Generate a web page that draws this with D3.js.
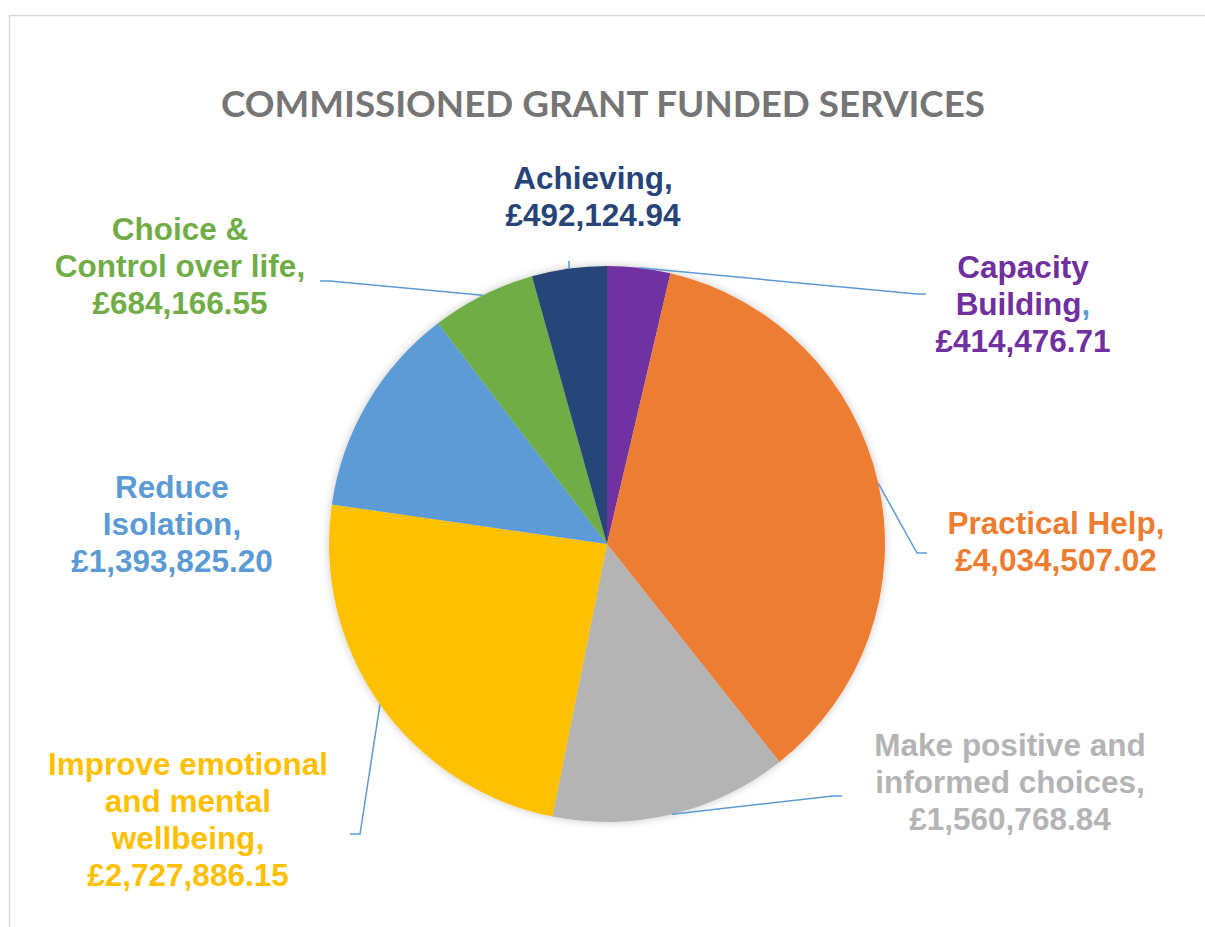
<!DOCTYPE html>
<html>
<head>
<meta charset="utf-8">
<script src="https://cdn.jsdelivr.net/npm/d3@7"></script>
<style>
  body { margin: 0; background: #fff; }
  svg { display: block; }
</style>
</head>
<body>
<script>
// data, clockwise from 12 o'clock
const categories = ["Capacity Building", "Practical Help", "Make positive and informed choices",
  "Improve emotional and mental wellbeing", "Reduce Isolation", "Choice & Control over life", "Achieving"]
const values = [414476.71, 4034507.02, 1560768.84, 2727886.15, 1393825.20, 684166.55, 492124.94]
// how each category name wraps in its label
const labelLines = [
  ["Capacity", "Building"],
  ["Practical Help"],
  ["Make positive and", "informed choices"],
  ["Improve emotional", "and mental", "wellbeing"],
  ["Reduce", "Isolation"],
  ["Choice &", "Control over life"],
  ["Achieving"]
]

const width = 1205, height = 927
const cx = 607, cy = 544, radius = 278

const color = d3.scaleOrdinal()
  .domain(categories)
  .range(["#7030A0", "#ED7D31", "#B4B4B4", "#FFC000", "#5B9BD5", "#70AD47", "#264478"])

const money = v => "£" + d3.format(",.2f")(v)

// label placement: text centre x, first baseline y, and leader elbow/end (null = no leader)
const layout = [
  { x: 1023, y: 278, elbow: [917, 294], end: [926, 294] },
  { x: 1056, y: 534, elbow: [917, 553], end: [927, 553] },
  { x: 1010, y: 756, elbow: [833, 796], end: [842, 796] },
  { x: 188, y: 775, elbow: [360, 834], end: [350, 834] },
  { x: 172, y: 498, elbow: null, end: null },
  { x: 180, y: 240, elbow: [330, 281], end: [320, 281] },
  { x: 593, y: 189, elbow: [569, 261], end: [569, 261] }
]
const lineH = 37

const svg = d3.select("body")
  .append("svg")
  .attr("width", width)
  .attr("height", height)
  .attr("viewBox", [0, 0, width, height])

// chart area border (runs off right and bottom)
svg.append("rect")
  .attr("x", 9.5).attr("y", 15.5)
  .attr("width", width + 20).attr("height", height + 20)
  .attr("fill", "#fff")
  .attr("stroke", "#d9d9d9")
  .attr("stroke-width", 1.5)

const defs = svg.append("defs")
defs.append("filter")
  .attr("id", "shadow")
  .attr("x", "-10%").attr("y", "-10%").attr("width", "120%").attr("height", "120%")
  .append("feDropShadow")
  .attr("dx", 0).attr("dy", 0)
  .attr("stdDeviation", 4)
  .attr("flood-color", "#000")
  .attr("flood-opacity", 0.22)

svg.append("text")
  .attr("x", 603)
  .attr("y", 117)
  .attr("text-anchor", "middle")
  .attr("textLength", 764)
  .attr("lengthAdjust", "spacingAndGlyphs")
  .style("font-family", "Lato, 'Open Sans', sans-serif")
  .style("font-weight", "bold")
  .style("font-size", "37px")
  .style("fill", "#757575")
  .text("COMMISSIONED GRANT FUNDED SERVICES")

const pie = d3.pie().sort(null).value(d => d)
const arcs = pie(values)

const arc = d3.arc().innerRadius(0).outerRadius(radius)

const g = svg.append("g")
  .attr("transform", `translate(${cx},${cy})`)

g.append("g")
  .attr("filter", "url(#shadow)")
  .selectAll("path")
  .data(arcs)
  .enter().append("path")
  .attr("d", arc)
  .attr("fill", (d, i) => color(categories[i]))

// leader lines start on the rim at each slice's mid angle
const rim = d => {
  const a = (d.startAngle + d.endAngle) / 2
  return [cx + radius * Math.sin(a), cy - radius * Math.cos(a)]
}

svg.append("g")
  .selectAll("polyline")
  .data(arcs.filter((d, i) => layout[i].elbow))
  .enter().append("polyline")
  .attr("points", d => [rim(d), layout[d.index].elbow, layout[d.index].end].map(p => p.join(",")).join(" "))
  .attr("fill", "none")
  .attr("stroke", "#5B9BD5")
  .attr("stroke-width", 1.5)

const labels = svg.append("g")
  .style("font-family", "'Liberation Sans', Arial, sans-serif")
  .style("font-weight", "bold")
  .style("font-size", "31.5px")
  .selectAll("text")
  .data(arcs)
  .enter().append("text")
  .attr("text-anchor", "middle")
  .style("fill", (d, i) => color(categories[i]))

labels.each(function (d, i) {
  const t = d3.select(this)
  const lines = labelLines[i]
  const L = layout[i]
  lines.forEach((s, k) => {
    const span = t.append("tspan")
      .attr("x", L.x)
      .attr("y", L.y + k * lineH)
    if (k === lines.length - 1) {
      span.append("tspan").text(s)
      // the comma after "Building" is drawn in the leader colour in the original
      span.append("tspan").style("fill", i === 0 ? "#5B9BD5" : null).text(",")
    } else {
      span.text(s)
    }
  })
  t.append("tspan")
    .attr("x", L.x)
    .attr("y", L.y + lines.length * lineH)
    .text(money(values[i]))
})
</script>
</body>
</html>
